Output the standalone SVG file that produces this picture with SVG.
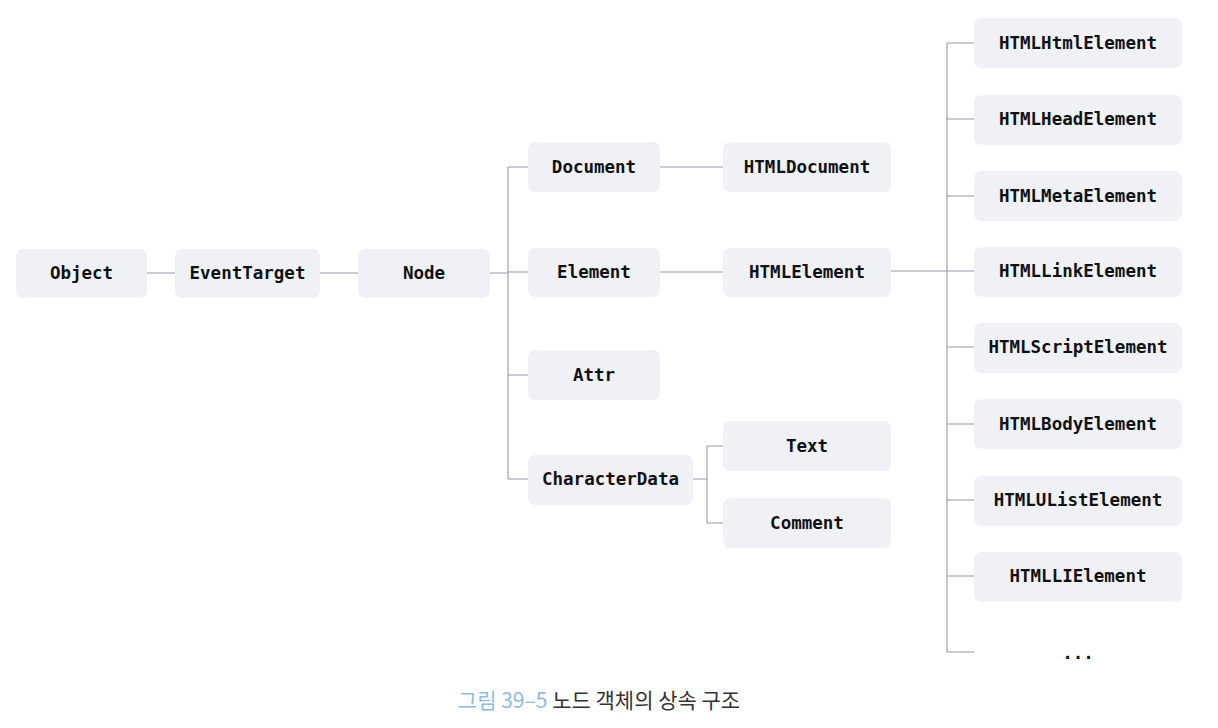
<svg xmlns="http://www.w3.org/2000/svg" width="1218" height="728" viewBox="0 0 1218 728">
<style>
.box{fill:#eff1f7;}
.lbl{font-family:"DejaVu Sans Mono","Liberation Mono",monospace;font-weight:bold;font-size:17.5px;fill:#111111;text-anchor:middle;}
.ln{stroke:#9499aa;stroke-width:1.1;fill:none;}
.cap{font-family:"Noto Sans CJK KR","Noto Sans",sans-serif;font-size:21px;}
</style>
<rect width="1218" height="728" fill="#ffffff"/>
<g id="connectors">
<path class="ln" d="M147 273H175M320 273H358M490 273H508M508 167V479M508 167H528M508 272H528M508 375H528M508 479H528"/>
<path class="ln" d="M660 167H723M660 272H723"/>
<path class="ln" d="M693 479H707M707 446V523M707 446H723M707 523H723"/>
<path class="ln" d="M891 271H947M947 43V652M947 43H974M947 119H974M947 196H974M947 271H974M947 347H974M947 424H974M947 500H974M947 576H974M947 652H974"/>
</g>
<g id="n-object"><rect class="box" x="16" y="249" width="131" height="49" rx="7"/><text class="lbl" x="81.5" y="279">Object</text></g>
<g id="n-eventtarget"><rect class="box" x="175" y="249" width="145" height="49" rx="7"/><text class="lbl" x="247.5" y="279">EventTarget</text></g>
<g id="n-node"><rect class="box" x="358" y="249" width="132" height="49" rx="7"/><text class="lbl" x="424" y="279">Node</text></g>
<g id="n-document"><rect class="box" x="528" y="142" width="132" height="50" rx="7"/><text class="lbl" x="594" y="173">Document</text></g>
<g id="n-element"><rect class="box" x="528" y="248" width="132" height="49" rx="7"/><text class="lbl" x="594" y="278">Element</text></g>
<g id="n-attr"><rect class="box" x="528" y="350" width="132" height="50" rx="7"/><text class="lbl" x="594" y="381">Attr</text></g>
<g id="n-characterdata"><rect class="box" x="528" y="455" width="165" height="50" rx="7"/><text class="lbl" x="610.5" y="485">CharacterData</text></g>
<g id="n-htmldocument"><rect class="box" x="723" y="142" width="168" height="50" rx="7"/><text class="lbl" x="807" y="173">HTMLDocument</text></g>
<g id="n-htmlelement"><rect class="box" x="723" y="248" width="168" height="49" rx="7"/><text class="lbl" x="807" y="278">HTMLElement</text></g>
<g id="n-text"><rect class="box" x="723" y="421" width="168" height="50" rx="7"/><text class="lbl" x="807" y="452">Text</text></g>
<g id="n-comment"><rect class="box" x="723" y="498" width="168" height="50" rx="7"/><text class="lbl" x="807" y="529">Comment</text></g>
<g id="n-htmlhtmlelement"><rect class="box" x="974" y="18" width="208" height="50" rx="7"/><text class="lbl" x="1078" y="49">HTMLHtmlElement</text></g>
<g id="n-htmlheadelement"><rect class="box" x="974" y="95" width="208" height="50" rx="7"/><text class="lbl" x="1078" y="125">HTMLHeadElement</text></g>
<g id="n-htmlmetaelement"><rect class="box" x="974" y="171" width="208" height="50" rx="7"/><text class="lbl" x="1078" y="202">HTMLMetaElement</text></g>
<g id="n-htmllinkelement"><rect class="box" x="974" y="247" width="208" height="50" rx="7"/><text class="lbl" x="1078" y="277">HTMLLinkElement</text></g>
<g id="n-htmlscriptelement"><rect class="box" x="974" y="323" width="208" height="50" rx="7"/><text class="lbl" x="1078" y="353">HTMLScriptElement</text></g>
<g id="n-htmlbodyelement"><rect class="box" x="974" y="399" width="208" height="50" rx="7"/><text class="lbl" x="1078" y="430">HTMLBodyElement</text></g>
<g id="n-htmlulistelement"><rect class="box" x="974" y="476" width="208" height="50" rx="7"/><text class="lbl" x="1078" y="506">HTMLUListElement</text></g>
<g id="n-htmllielement"><rect class="box" x="974" y="552" width="208" height="50" rx="7"/><text class="lbl" x="1078" y="582">HTMLLIElement</text></g>
<g id="n-more"><text class="lbl" x="1078" y="659">...</text></g>
<text class="cap" x="599" y="708" text-anchor="middle"><tspan fill="#8fbbe3">그림 39–5</tspan><tspan fill="#333333"> 노드 객체의 상속 구조</tspan></text>
</svg>
